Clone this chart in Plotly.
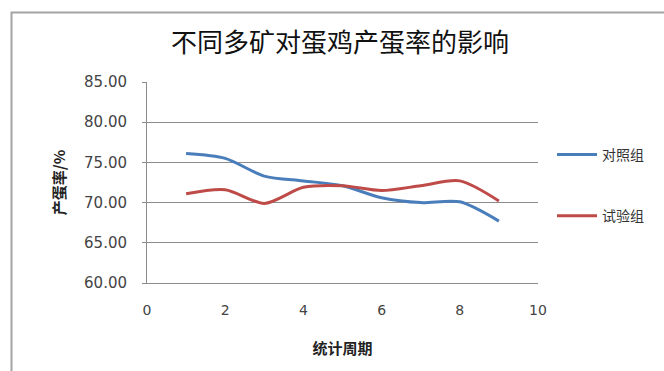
import plotly.graph_objects as go

# Statistical periods and laying rate (%) for each group
periods = [1, 2, 3, 4, 5, 6, 7, 8, 9]
control = [76.1, 75.5, 73.3, 72.7, 72.1, 70.6, 70.0, 70.1, 67.7]
trial = [71.1, 71.6, 69.9, 71.9, 72.1, 71.5, 72.1, 72.7, 70.2]

title_text = "不同多矿对蛋鸡产蛋率的影响"
x_title = "统计周期"
y_title = "产蛋率/%"
names = ["对照组", "试验组"]
colors = ["#4a7ebb", "#be4b48"]

W, H = 664, 371
L, R, T, B = 147, 538, 82, 283
pw, ph = R - L, B - T

fig = go.Figure()
for i, (name, ys) in enumerate(zip(names, [control, trial])):
    fig.add_trace(go.Scatter(
        x=periods, y=ys, name=name, mode="lines",
        line=dict(color=colors[i], width=3, shape="spline", smoothing=0.8),
        legendgroup=name,
    ))

def px_x(p):
    return (p - L) / pw

def px_y(p):
    return (B - p) / ph

# outer chart frame
fig.add_shape(type="rect", xref="paper", yref="paper",
              x0=px_x(11.5), x1=px_x(680), y0=px_y(390), y1=px_y(12.5),
              line=dict(color="#a3a3a3", width=2), fillcolor="rgba(0,0,0,0)",
              layer="below")

fig.update_layout(
    width=W, height=H,
    margin=dict(l=L, r=W - R, t=T, b=H - B),
    paper_bgcolor="white", plot_bgcolor="white",
    font=dict(family="Noto Sans CJK SC, DejaVu Sans, sans-serif", color="#333"),
    title=dict(text=title_text, x=340 / W, xanchor="center",
               y=1 - 43 / H, yanchor="middle",
               font=dict(size=26, color="#111")),
    showlegend=True,
    legend=dict(x=px_x(552), xanchor="left", y=px_y(139), yanchor="top",
                font=dict(size=14, color="#333"), itemwidth=40,
                tracegroupgap=40, bgcolor="rgba(0,0,0,0)"),
    xaxis=dict(range=[0, 10], dtick=2, tick0=0, showgrid=False,
               showline=True, linecolor="#8c8c8c", linewidth=1,
               ticks="", zeroline=False, ticklabelstandoff=14,
               tickfont=dict(family="DejaVu Sans", size=14, color="#444"),
               title=dict(text=x_title, standoff=26,
                          font=dict(size=15, color="#222", weight="bold"))),
    yaxis=dict(range=[60, 85], dtick=5, tick0=60, tickformat=".2f",
               showgrid=True, gridcolor="#8c8c8c", gridwidth=1,
               showline=True, linecolor="#8c8c8c", linewidth=1,
               ticks="outside", ticklen=4, tickcolor="#8c8c8c",
               zeroline=False, ticklabelstandoff=12,
               tickfont=dict(family="DejaVu Sans", size=15, color="#444"),
               title=dict(text=y_title, standoff=14,
                          font=dict(size=15, color="#222", weight="bold"))),
)

fig.write_html("out.html")
